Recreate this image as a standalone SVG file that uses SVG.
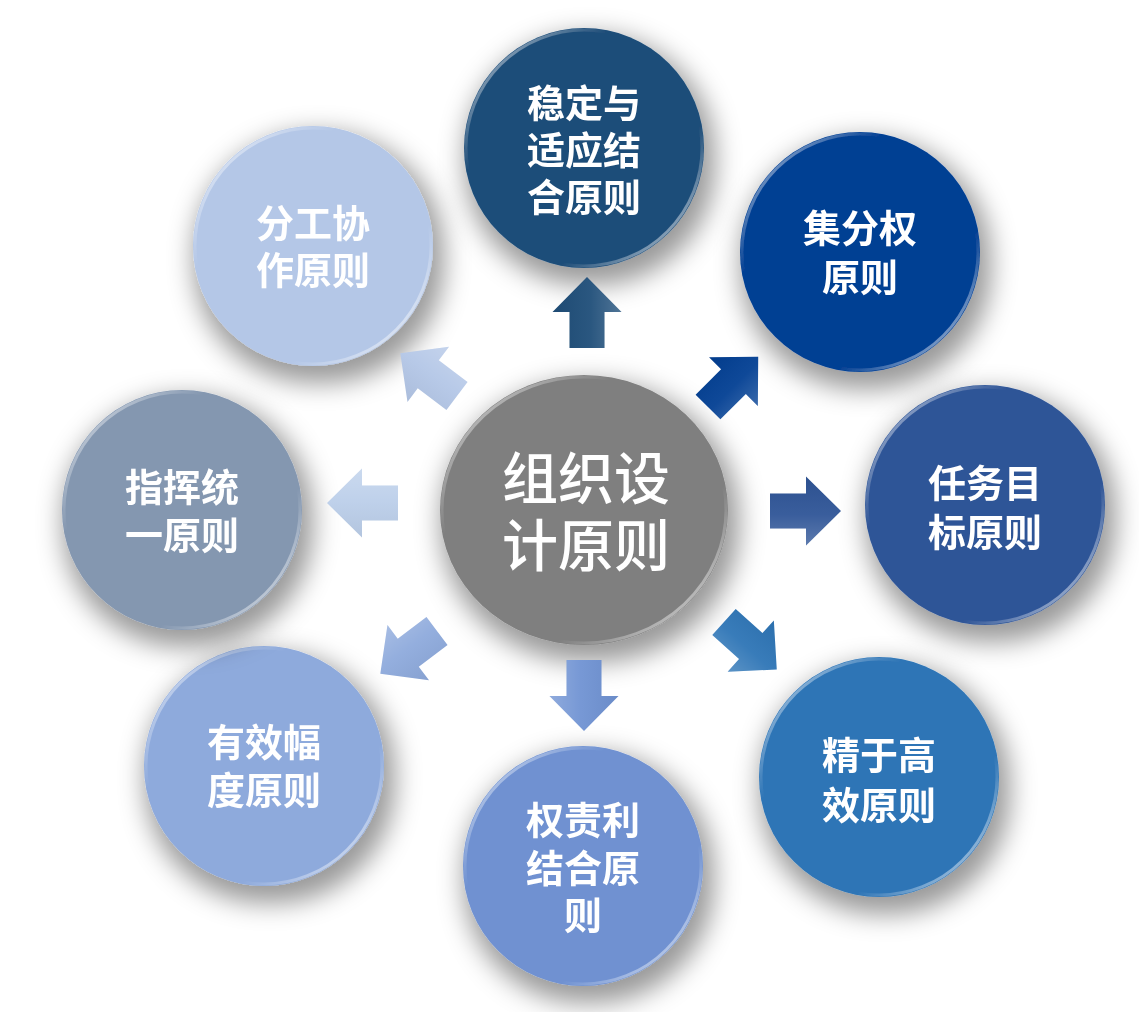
<svg xmlns="http://www.w3.org/2000/svg" xmlns:xlink="http://www.w3.org/1999/xlink" width="1139" height="1012" viewBox="0 0 1139 1012">
<style>
.t{font-family:"Noto Sans CJK SC","Liberation Sans",sans-serif;font-weight:bold;font-size:38px;fill:#fff;text-anchor:middle}
.tc{font-family:"Noto Sans CJK SC","Liberation Sans",sans-serif;font-weight:500;font-size:56px;fill:#fff;text-anchor:middle}
.rim{fill:none;stroke:url(#rim);stroke-width:3}
</style>
<defs>
<filter id="sh" x="-50%" y="-50%" width="200%" height="200%">
<feMorphology in="SourceAlpha" operator="dilate" radius="5" result="d"/>
<feGaussianBlur in="d" stdDeviation="13"/>
<feOffset dx="6" dy="12" result="b"/>
<feFlood flood-color="#000" flood-opacity="0.4"/>
<feComposite in2="b" operator="in"/>
<feMerge><feMergeNode/><feMergeNode in="SourceGraphic"/></feMerge>
</filter>
<linearGradient id="rim" x1="0" y1="0" x2="1" y2="1">
<stop offset="0" stop-color="#fff" stop-opacity="0.75"/>
<stop offset="0.3" stop-color="#fff" stop-opacity="0"/>
<stop offset="0.7" stop-color="#fff" stop-opacity="0"/>
<stop offset="1" stop-color="#fff" stop-opacity="0.85"/>
</linearGradient>
<linearGradient id="gl" x1="0" y1="0" x2="1" y2="0">
<stop offset="0" stop-color="#000" stop-opacity="0.05"/>
<stop offset="0.55" stop-color="#fff" stop-opacity="0.05"/>
<stop offset="1" stop-color="#fff" stop-opacity="0.22"/>
</linearGradient>
<polygon id="arr" points="0,-71 34.5,-36 17.5,-36 17.5,0 -17.5,0 -17.5,-36 -34.5,-36"/>
</defs>
<rect width="1139" height="1012" fill="#fff"/>
<g id="nodes">
<g id="n-center" filter="url(#sh)">
<ellipse cx="584" cy="510" rx="144" ry="135" fill="#7F7F7F"/>
<ellipse cx="584" cy="510" rx="142" ry="133" class="rim"/>
<text class="tc" x="586" y="499">组织设</text>
<text class="tc" x="586" y="566">计原则</text>
</g>
<g id="n-top" filter="url(#sh)">
<circle cx="584" cy="148" r="120" fill="#1F4E79"/>
<circle cx="584" cy="148" r="118" class="rim"/>
<text class="t" x="584" y="117">稳定与</text>
<text class="t" x="584" y="164">适应结</text>
<text class="t" x="584" y="211">合原则</text>
</g>
<g id="n-ne" filter="url(#sh)">
<circle cx="860" cy="252" r="120" fill="#023F93"/>
<circle cx="860" cy="252" r="118" class="rim"/>
<text class="t" x="860" y="242">集分权</text>
<text class="t" x="860" y="291">原则</text>
</g>
<g id="n-e" filter="url(#sh)">
<circle cx="985" cy="505" r="120" fill="#2F5597"/>
<circle cx="985" cy="505" r="118" class="rim"/>
<text class="t" x="985" y="497">任务目</text>
<text class="t" x="985" y="546">标原则</text>
</g>
<g id="n-se" filter="url(#sh)">
<circle cx="879" cy="777" r="120" fill="#2E75B6"/>
<circle cx="879" cy="777" r="118" class="rim"/>
<text class="t" x="879" y="769">精于高</text>
<text class="t" x="879" y="819">效原则</text>
</g>
<g id="n-s" filter="url(#sh)">
<circle cx="583" cy="866" r="120" fill="#6F91D1"/>
<circle cx="583" cy="866" r="118" class="rim"/>
<text class="t" x="583" y="834">权责利</text>
<text class="t" x="583" y="882">结合原</text>
<text class="t" x="583" y="929">则</text>
</g>
<g id="n-sw" filter="url(#sh)">
<circle cx="264" cy="766" r="120" fill="#8EAADC"/>
<circle cx="264" cy="766" r="118" class="rim"/>
<text class="t" x="264" y="756">有效幅</text>
<text class="t" x="264" y="804">度原则</text>
</g>
<g id="n-w" filter="url(#sh)">
<circle cx="182" cy="510" r="120" fill="#8497B0"/>
<circle cx="182" cy="510" r="118" class="rim"/>
<text class="t" x="182" y="501">指挥统</text>
<text class="t" x="182" y="549">一原则</text>
</g>
<g id="n-nw" filter="url(#sh)">
<circle cx="313" cy="246" r="120" fill="#B4C7E7"/>
<circle cx="313" cy="246" r="118" class="rim"/>
<text class="t" x="313" y="237">分工协</text>
<text class="t" x="313" y="284">作原则</text>
</g>
</g>
<g id="connectors">
<g transform="translate(587,348)"><use href="#arr" fill="#1F4E79"/><use href="#arr" fill="url(#gl)"/></g>
<g transform="translate(708,407) rotate(45)"><use href="#arr" fill="#023F93"/><use href="#arr" fill="url(#gl)"/></g>
<g transform="translate(770,511) rotate(90)"><use href="#arr" fill="#2F5597"/><use href="#arr" fill="url(#gl)"/></g>
<g transform="translate(724,622) rotate(132)"><use href="#arr" fill="#2E75B6"/><use href="#arr" fill="url(#gl)"/></g>
<g transform="translate(584,660) rotate(180)"><use href="#arr" fill="#7093D3"/><use href="#arr" fill="url(#gl)"/></g>
<g transform="translate(437,631) rotate(233)"><use href="#arr" fill="#8EAADC"/><use href="#arr" fill="url(#gl)"/></g>
<g transform="translate(398,503) rotate(270)"><use href="#arr" fill="#BCCFEA"/><use href="#arr" fill="url(#gl)"/></g>
<g transform="translate(457,396) rotate(307)"><use href="#arr" fill="#B4C7E7"/><use href="#arr" fill="url(#gl)"/></g>
</g>
</svg>
